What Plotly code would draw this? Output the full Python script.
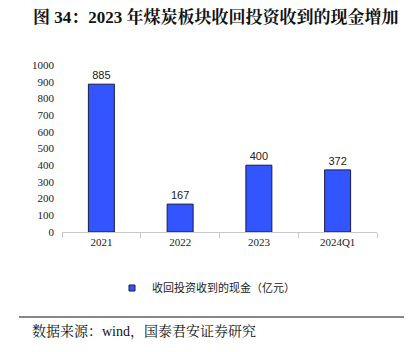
import plotly.graph_objects as go

categories = ["2021", "2022", "2023", "2024Q1"]
values = [885, 167, 400, 372]
series_name = "收回投资收到的现金（亿元）"
title_text = "<b>图 34：2023 年煤炭板块收回投资收到的现金增加</b>"
source_text = "数据来源：wind，国泰君安证券研究"

W, H = 410, 352
L, R, T, B = 62, 33, 65, 120
BAR_COLOR = "#3355FF"
EDGE = "#1a1a40"

fig = go.Figure()
fig.add_trace(go.Bar(
    x=categories, y=values, name=series_name, showlegend=False,
    marker=dict(color=BAR_COLOR, line=dict(color=EDGE, width=1)),
    text=[str(v) for v in values], textposition="outside",
    textfont=dict(family="Liberation Sans, Arial", size=11, color="#222"),
    cliponaxis=False,
))
# legend entry with a small square swatch
fig.add_trace(go.Scatter(
    x=[None], y=[None], mode="markers", name=series_name,
    marker=dict(symbol="square", size=6, color=BAR_COLOR, line=dict(color=EDGE, width=1)),
))

fig.update_layout(
    width=W, height=H,
    margin=dict(l=L, r=R, t=T, b=B),
    paper_bgcolor="white", plot_bgcolor="white",
    bargap=0.67,
    showlegend=True,
    legend=dict(orientation="h", x=(206 - L) / (W - L - R), xanchor="center", y=-(288 - (H - B)) / (H - T - B),
                yanchor="middle",
                font=dict(family="Noto Sans CJK SC", size=11, color="#222"),
                itemwidth=30, tracegroupgap=0),
    xaxis=dict(showline=True, linecolor="#c8c8c8", linewidth=1, ticks="outside",
               tickcolor="#c8c8c8", ticklen=5, tickson="boundaries",
               tickfont=dict(family="Liberation Serif, Times New Roman", size=11, color="#222"),
               showgrid=False),
    yaxis=dict(range=[0, 1000], dtick=100, showgrid=False, showline=False, zeroline=False,
               tickfont=dict(family="Liberation Serif, Times New Roman", size=11, color="#222"),
               ticks="", ticklabelstandoff=7),
    font=dict(family="Liberation Serif"),
)

fig.add_annotation(text=title_text, xref="paper", yref="paper",
                   x=(31 - L) / (W - L - R), y=1 + (T - 17) / (H - T - B),
                   xanchor="left", yanchor="middle", showarrow=False,
                   font=dict(family="Liberation Serif, Noto Serif CJK SC, Noto Sans CJK SC", size=17, color="#111"))

fig.add_shape(type="line", xref="paper", yref="paper",
              x0=(19 - L) / (W - L - R), x1=(404 - L) / (W - L - R),
              y0=-(317 - (H - B)) / (H - T - B), y1=-(317 - (H - B)) / (H - T - B),
              line=dict(color="#111", width=1.2))

fig.add_annotation(text=source_text, xref="paper", yref="paper",
                   x=(30 - L) / (W - L - R), y=-(331 - (H - B)) / (H - T - B),
                   xanchor="left", yanchor="middle", showarrow=False,
                   font=dict(family="Liberation Serif, Noto Serif CJK SC, Noto Sans CJK SC", size=14, color="#111"))

fig.write_html("out.html")
